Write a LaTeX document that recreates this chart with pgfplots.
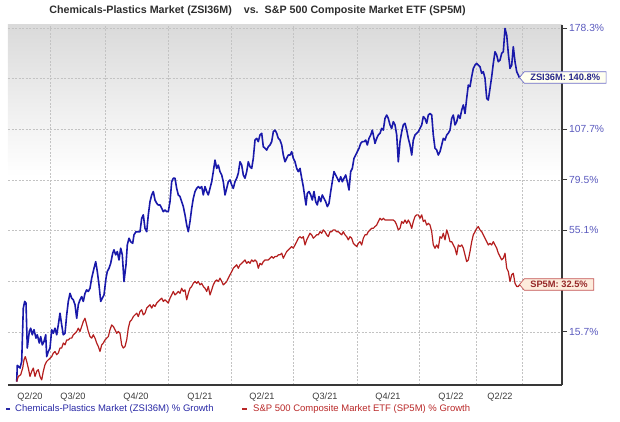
\documentclass[border=0pt]{standalone}
\usepackage{pgfplots}
\pgfplotsset{compat=1.18}
\usepackage{pgfplotstable}
\usepackage{fontspec}
\setmainfont{Liberation Sans}
\usetikzlibrary{shapes.symbols}

\definecolor{blueline}{RGB}{25,25,170}
\definecolor{redline}{RGB}{180,30,30}
\definecolor{ticklab}{RGB}{90,90,190}
\definecolor{xlab}{RGB}{60,60,60}
\definecolor{titlec}{RGB}{45,45,45}
\definecolor{legblue}{RGB}{40,40,165}
\definecolor{legred}{RGB}{185,40,40}
\definecolor{zsifill}{RGB}{255,255,240}
\definecolor{zsiborder}{RGB}{110,110,200}
\definecolor{zsitext}{RGB}{40,40,140}
\definecolor{spfill}{RGB}{253,236,220}
\definecolor{spborder}{RGB}{195,85,85}
\definecolor{sptext}{RGB}{150,40,40}
\definecolor{bgtop}{RGB}{218,218,218}
\definecolor{bgmid}{RGB}{238,238,238}
\definecolor{gridc}{RGB}{195,195,195}

\pgfdeclareverticalshading{bgshade}{100bp}{color(0bp)=(white); color(25bp)=(white); color(54bp)=(white); color(64bp)=(bgmid); color(75bp)=(bgtop); color(100bp)=(bgtop)}

\pgfplotstableread{
t g
16.7 0.2
17.3 5.0
20.0 4.2
21.7 6.2
23.3 23.9
24.7 26.3
26.0 25.7
27.3 10.4
29.3 15.8
30.7 16.9
32.3 14.7
34.0 16.4
36.0 13.6
37.3 14.7
39.3 12.0
40.7 14.1
42.3 11.4
44.0 12.5
45.7 14.7
46.7 7.7
48.3 9.3
50.0 10.4
51.7 16.4
53.3 15.2
55.0 16.9
56.7 14.7
58.3 18.0
60.0 22.1
61.7 18.0
63.3 14.7
65.0 15.2
66.7 21.5
68.3 26.3
70.0 29.3
71.7 27.5
73.3 26.9
75.0 25.1
76.7 20.3
78.3 25.1
80.0 26.9
81.7 28.1
83.3 26.3
85.0 29.3
86.7 30.6
88.3 30.0
90.0 31.2
91.7 35.1
94.0 39.0
95.7 41.7
97.3 37.7
99.0 32.5
100.7 26.3
102.3 27.5
104.0 28.7
106.0 35.1
107.3 37.7
109.0 39.0
110.7 41.0
112.7 45.2
114.0 46.6
115.7 44.5
117.3 45.9
119.0 42.4
120.7 47.3
122.3 44.5
124.0 33.8
126.0 40.4
127.3 48.7
129.0 51.6
130.7 50.1
132.7 49.4
134.0 53.1
136.0 54.5
138.3 54.5
140.0 54.5
141.7 60.6
143.3 62.2
145.0 56.0
146.7 54.5
148.3 62.2
150.0 68.5
151.7 71.8
153.3 73.5
155.0 69.3
156.7 67.7
158.3 66.9
160.0 66.9
161.7 65.3
163.3 63.7
165.0 64.5
166.7 63.7
168.3 63.7
170.0 68.5
171.7 78.5
173.3 80.3
175.0 80.3
176.7 75.1
178.3 71.8
180.0 71.0
181.7 68.5
183.3 66.1
185.0 62.2
186.7 57.5
188.3 54.5
190.0 59.1
191.7 65.3
193.3 70.1
195.0 73.5
196.7 75.1
198.3 76.0
200.0 75.1
201.7 76.0
203.3 71.8
205.0 76.0
206.7 73.5
208.3 71.8
210.0 75.1
211.7 78.5
213.3 83.8
215.0 90.0
216.7 85.5
218.3 87.3
220.0 83.8
221.7 82.0
223.3 78.5
225.0 71.8
226.7 75.1
228.3 78.5
230.0 79.4
231.7 76.8
233.3 75.1
235.0 78.5
236.7 80.3
238.3 82.9
240.0 89.1
241.7 87.3
243.3 82.0
245.0 80.3
246.7 83.8
248.3 89.1
250.0 86.4
251.7 85.5
253.3 91.0
255.0 101.3
256.7 102.3
258.3 100.4
260.0 104.3
261.7 105.3
263.3 97.5
265.0 96.6
266.7 95.6
268.3 97.5
270.0 98.5
271.7 100.4
273.3 106.2
275.0 107.2
276.7 105.3
278.3 102.3
280.0 101.3
281.7 98.5
283.3 92.8
285.0 89.1
286.7 91.0
288.3 92.8
290.0 92.8
291.7 94.7
293.3 91.0
295.0 89.1
296.7 85.5
298.3 83.8
300.0 85.5
301.7 80.3
303.3 76.0
305.0 70.1
306.0 66.9
307.3 72.6
309.0 73.5
310.7 71.8
312.3 69.3
314.0 73.5
315.7 68.5
317.3 66.9
319.0 71.0
320.7 68.5
322.3 71.8
324.0 70.1
325.7 68.5
327.3 66.1
329.0 67.7
330.7 73.5
332.3 78.5
334.0 83.8
335.7 82.0
337.3 80.3
339.0 78.5
340.7 81.1
342.3 78.5
344.0 80.3
345.7 82.0
347.3 78.5
349.0 74.3
350.7 83.8
352.3 85.5
354.0 91.0
355.7 92.8
357.3 94.7
359.0 96.6
360.7 99.4
362.3 100.4
364.0 100.4
365.7 101.3
367.3 98.5
369.0 102.3
370.7 104.3
372.3 107.2
374.0 102.3
375.0 99.4
376.7 102.3
378.3 104.3
380.0 105.3
381.7 108.2
383.3 107.2
385.0 114.3
386.7 116.4
388.3 114.3
390.0 110.3
391.7 108.2
393.3 112.3
395.0 110.3
396.7 104.3
398.3 89.1
400.0 100.4
401.7 106.2
403.3 110.3
405.0 111.3
406.7 107.2
408.3 102.3
410.0 98.5
411.7 92.8
413.3 101.3
415.0 104.3
416.7 105.3
418.3 106.2
420.0 108.2
421.7 110.3
423.3 115.4
425.0 114.3
426.7 111.3
428.3 116.4
430.0 117.4
431.7 116.4
433.3 104.3
435.0 96.6
436.7 95.6
438.3 92.8
440.0 94.7
441.7 98.5
443.3 102.3
445.0 101.3
446.7 104.3
448.3 105.3
450.0 107.2
451.7 114.3
453.3 116.4
455.0 110.3
456.7 112.3
458.3 116.4
460.0 114.3
461.7 119.5
463.3 122.8
465.0 117.4
466.7 127.1
468.3 136.0
470.0 134.9
471.7 141.8
473.3 147.6
475.0 150.0
476.7 151.2
478.3 150.0
480.0 148.8
481.7 144.1
483.3 145.3
485.0 140.6
486.7 127.1
488.3 126.0
490.0 133.7
491.7 141.8
493.3 151.2
495.0 159.8
496.7 157.3
498.3 152.4
500.0 153.6
501.7 158.6
503.3 159.8
505.0 177.9
506.7 172.6
508.3 158.6
510.0 147.6
511.7 150.0
513.3 163.6
515.0 152.4
516.7 145.3
518.3 142.9
519.5 140.8
}\zsi

\pgfplotstableread{
t g
16.7 0.2
18.3 1.7
20.7 2.2
22.7 4.2
24.0 6.7
25.3 7.7
26.7 6.2
28.3 4.2
30.0 1.7
31.7 3.2
33.3 4.2
35.0 1.7
36.7 3.2
38.3 3.7
40.0 1.7
41.7 0.7
43.3 3.2
45.0 5.2
46.7 6.2
48.3 6.7
50.0 7.2
51.7 7.7
53.3 8.8
55.0 9.3
56.7 8.3
58.3 8.8
60.0 10.4
61.7 10.4
63.3 12.0
65.0 11.4
66.7 13.0
68.3 13.0
70.0 13.6
71.7 13.6
73.3 14.7
75.0 15.2
76.7 15.8
78.3 16.9
80.0 15.8
81.7 17.5
83.3 19.2
85.0 20.3
86.7 18.0
88.3 15.8
90.0 14.1
91.7 13.6
93.3 14.7
95.0 13.6
96.7 12.0
98.3 10.9
100.0 9.3
101.7 11.4
103.3 12.0
105.0 13.0
106.7 13.6
108.3 14.1
110.0 16.4
111.7 18.0
113.3 17.5
115.0 16.4
116.7 15.2
118.3 15.8
120.0 15.2
121.7 11.4
123.3 10.4
125.0 10.9
126.7 13.0
128.3 16.9
130.0 19.2
131.7 19.8
133.3 20.9
135.0 21.5
136.7 22.1
138.3 20.9
140.0 22.7
141.7 23.3
143.3 21.5
145.0 22.1
146.7 23.9
148.3 24.5
150.0 25.1
151.7 23.9
153.3 25.1
155.0 24.5
156.7 25.7
158.3 26.3
160.0 26.9
161.7 27.5
163.3 26.3
165.0 26.9
166.7 26.3
168.3 25.7
170.0 27.5
171.7 28.7
173.3 30.0
175.0 28.7
176.7 29.3
178.3 30.0
180.0 29.3
181.7 31.2
183.3 30.0
185.0 30.6
186.7 26.9
188.3 29.3
190.0 31.2
191.7 31.9
193.3 33.1
195.0 33.8
196.7 33.1
198.3 33.8
200.0 32.5
201.7 33.1
203.3 31.9
205.0 31.2
206.7 30.0
208.3 31.9
210.0 28.7
211.7 30.6
213.3 32.5
215.0 33.8
216.7 34.4
218.3 33.8
220.0 35.1
221.7 33.8
223.3 32.5
225.0 33.1
226.7 33.8
228.3 35.1
230.0 36.4
231.7 37.7
233.3 39.0
235.0 39.7
236.7 40.4
238.3 39.0
240.0 40.4
241.7 41.0
243.3 41.7
245.0 42.4
246.7 41.0
248.3 41.7
250.0 41.0
251.7 42.4
253.3 41.7
255.0 42.4
256.7 41.7
258.3 39.0
260.0 41.0
261.7 40.4
263.3 41.7
265.0 42.4
266.7 42.4
268.3 42.4
270.0 43.1
271.7 43.8
273.3 43.1
275.0 43.8
276.7 43.8
278.3 44.5
280.0 44.5
281.7 45.2
283.3 43.1
285.0 44.5
286.7 45.9
288.3 46.6
290.0 47.3
291.7 48.0
293.3 47.3
295.0 48.7
296.7 50.1
298.3 51.6
300.0 52.3
301.7 51.6
303.3 52.3
305.0 48.7
306.7 50.9
308.3 52.3
310.0 53.8
311.7 53.1
313.3 51.6
315.0 52.3
316.7 53.1
318.3 53.1
320.0 54.5
321.7 53.8
323.3 55.3
325.0 54.5
326.7 53.1
328.3 52.3
330.0 54.5
331.7 54.5
333.3 55.3
335.0 55.3
336.7 54.5
338.3 54.5
340.0 53.8
341.7 53.1
343.3 54.5
345.0 53.1
346.7 52.3
348.3 50.9
350.0 52.3
351.7 51.6
353.3 49.4
355.0 48.7
356.7 48.0
358.3 49.4
360.0 50.1
361.7 48.7
363.3 51.6
365.0 53.1
366.7 53.1
368.3 54.5
370.0 55.3
371.7 56.0
373.3 56.0
375.0 56.8
376.7 57.5
378.3 59.1
380.0 60.6
381.7 59.8
383.3 60.6
385.0 59.8
386.7 59.8
388.3 59.8
390.0 59.8
391.7 59.8
393.3 59.8
395.0 59.1
396.7 57.5
398.3 55.3
400.0 56.0
401.7 59.1
403.3 58.3
405.0 59.8
406.7 58.3
408.3 59.8
410.0 58.3
411.7 56.0
413.3 59.1
415.0 61.4
416.7 62.2
418.3 62.2
420.0 60.6
421.7 62.2
423.3 59.1
425.0 59.8
426.7 57.5
428.3 58.3
430.0 57.5
431.7 54.5
433.3 48.7
435.0 47.3
436.7 48.7
438.3 47.3
440.0 52.3
441.7 51.6
443.3 53.8
445.0 50.9
446.7 55.3
448.3 53.1
450.0 50.1
451.7 50.1
453.3 48.7
455.0 47.3
456.7 44.5
458.3 48.7
460.0 48.0
461.7 48.7
463.3 47.3
465.0 44.5
466.7 41.7
468.3 42.4
470.0 45.9
471.7 50.1
473.3 53.1
475.0 54.5
476.7 56.0
478.3 56.8
480.0 55.3
481.7 54.5
483.3 53.1
485.0 51.6
486.7 50.1
488.3 48.7
490.0 49.4
491.7 48.7
493.3 50.1
495.0 48.7
496.7 47.3
498.3 45.2
500.0 43.8
501.7 42.4
503.3 43.1
505.0 45.2
506.7 39.0
508.3 37.7
510.0 33.8
511.7 36.4
513.3 37.0
515.0 33.1
516.7 31.9
518.3 31.9
519.5 32.5
}\spfm

\begin{document}
\begin{tikzpicture}[x=1pt,y=1pt]
\useasboundingbox (0,0) rectangle (620,422);
\begin{axis}[
  at={(8pt,37pt)}, anchor=south west,
  width=554pt, height=360pt, scale only axis,
  xmin=8, xmax=562,
  ymode=log, ymin=99.22, ymax=280.7,
  axis x line*=bottom, axis y line*=right,
  axis line style={-, draw=black!78, line width=1.5pt},
  xtick={30,73,136,200,262,325,388,451,500},
  xticklabels={Q2/20,Q3/20,Q4/20,Q1/21,Q2/21,Q3/21,Q4/21,Q1/22,Q2/22},
  minor xtick={50,105,168,231,293,357,419,476,522},
  xminorgrids, ymajorgrids,
  ytick={115.7,134.0,155.1,179.5,207.7,240.5,278.3},
  yticklabels={15.7\%,,55.1\%,79.5\%,107.7\%,,178.3\%},
  minor ytick={},
  tick align=outside,
  major tick length=5pt,
  xtick style={draw=none},
  ytick style={draw=black!78, line width=0.8pt},
  grid style={draw=gridc, line width=0.5pt, dash pattern=on 2pt off 1.5pt},
  minor grid style={draw=gridc, line width=0.5pt, dash pattern=on 2pt off 1.5pt},
  axis background/.style={shading=bgshade},
  yticklabel style={font=\fontsize{10.3}{12}\selectfont, text=ticklab, inner xsep=2pt},
  xticklabel style={font=\fontsize{9.2}{11}\selectfont, text=xlab, yshift=1pt},
]
\addplot[blueline, line width=1.6pt, line join=round] table[x=t, y expr=\thisrow{g}+100] {\zsi};
\addplot[redline, line width=1.2pt, line join=round] table[x=t, y expr=\thisrow{g}+100] {\spfm};
\end{axis}
\node[font=\fontsize{10.7}{13}\selectfont\bfseries, text=titlec] at (257.5,411) {Chemicals-Plastics Market (ZSI36M)\hspace{12pt}vs.\hspace{6pt}S\&P 500 Composite Market ETF (SP5M)};
\draw[legblue, line width=1.6pt] (6,13) -- (10,13);
\node[anchor=west, inner sep=0pt, text=legblue, font=\fontsize{9.5}{11}\selectfont] at (15,13) {Chemicals-Plastics Market (ZSI36M) \% Growth};
\draw[legred, line width=1.6pt] (242,13) -- (247,13);
\node[anchor=west, inner sep=0pt, text=legred, font=\fontsize{9.5}{11}\selectfont] at (253,13) {S\&P 500 Composite Market ETF (SP5M) \% Growth};
\node[signal, signal to=west, signal pointer angle=100, draw=zsiborder, fill=zsifill, line width=0.7pt, text=zsitext, font=\fontsize{9.3}{11}\selectfont\bfseries, inner xsep=6pt, inner ysep=2.5pt, anchor=west] at (519,344.5) {ZSI36M: 140.8\%};
\node[signal, signal to=west, signal pointer angle=100, draw=spborder, fill=spfill, line width=0.7pt, text=sptext, font=\fontsize{9.3}{11}\selectfont\bfseries, inner xsep=6pt, inner ysep=2.5pt, anchor=west] at (519,137.5) {SP5M: 32.5\%};
\end{tikzpicture}
\end{document}
